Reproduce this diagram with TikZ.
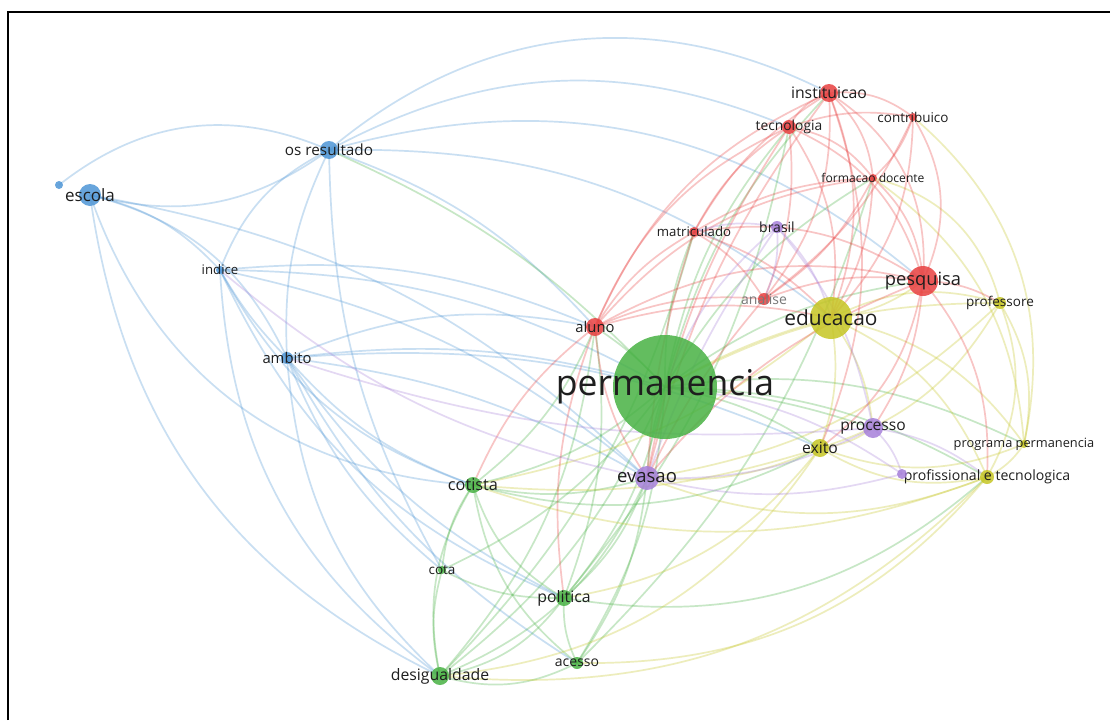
\documentclass[tikz,border=0pt]{standalone}
\usepackage{fontspec}
\setmainfont{Open Sans}
\usepackage{tikz}
\usetikzlibrary{calc}
\pgfdeclarelayer{edges}
\pgfsetlayers{edges,main}
\definecolor{kwblue}{RGB}{78,150,214}
\definecolor{kwred}{RGB}{232,64,64}
\definecolor{kwgreen}{RGB}{72,178,68}
\definecolor{kwyellow}{RGB}{198,198,36}
\definecolor{kwpurple}{RGB}{166,128,218}
\definecolor{txt}{RGB}{30,30,30}
\definecolor{txtlight}{RGB}{120,120,120}

\begin{document}
\begin{tikzpicture}[x=1pt,y=-1pt]
    %
    \tikzset{kw/.style={circle, inner sep=0pt, fill opacity=0.85},
             kwlabel/.style={inner sep=0pt},
             edge/.style={line width=1.7pt, opacity=0.3}}
    \useasboundingbox (0,0) rectangle (1110,720);
    \draw[line width=2.5pt] (8,720) -- (8,12) -- (1110,12);

    %
    \foreach \n/\x/\y/\r/\c/\s/\tc/\t in {
        esc/90/195/11/kwblue/17/txt/escola,
        escdot/59/185/4/kwblue/1/txt/{},
        osr/329/150/9/kwblue/15.3/txt/os resultado,
        ind/220/270/4/kwblue/13.2/txt/indice,
        amb/287/358/6/kwblue/14.8/txt/ambito,
        alu/595/327/9/kwred/14.8/txt/aluno,
        perm/665/387/52/kwgreen/35.5/txt/permanencia,
        eva/647/478/12/kwpurple/18.5/txt/evasao,
        cot/473/485/8/kwgreen/16.3/txt/cotista,
        cota/442/570/4/kwgreen/13.5/txt/cota,
        pol/564/598/8/kwgreen/15.8/txt/politica,
        des/440/676/9/kwgreen/15.8/txt/desigualdade,
        ace/577/663/6/kwgreen/14/txt/acesso,
        inst/829/93/9/kwred/15.8/txt/instituicao,
        tec/789/127/7/kwred/13.8/txt/tecnologia,
        contr/913/117/4/kwred/13.5/txt/contribuico,
        form/873/178/4/kwred/12.1/txt/formacao docente,
        matr/694/232/5/kwred/13.2/txt/matriculado,
        bra/777/227/6/kwpurple/14/txt/brasil,
        anal/764/299/6/kwred/14/txtlight/analise,
        pesq/923/281/15/kwred/18.3/txt/pesquisa,
        edu/831/318/21/kwyellow/20.9/txt/educacao,
        prof/1000/303/6/kwyellow/13.5/txt/professore,
        proc/873/428/10/kwpurple/15.6/txt/processo,
        exi/820/448/9/kwyellow/15.7/txt/exito,
        prog/1024/444/4/kwyellow/12.8/txt/programa permanencia,
        ptec/987/477/7/kwyellow/14.1/txt/profissional e tecnologica,
        ins/902/474/5/kwpurple/1/txt/{}} {
        \node[kw, fill=\c, minimum size={2*\r pt}] (\n) at (\x,\y) {};
        \node[kwlabel, text=\tc, font=\fontsize{\s}{\s}\selectfont] (\n-t) at (\n) {\t};
    }

    \begin{pgfonlayer}{edges}
    \fill[white] (0,0) rectangle (1110,720);
    %
    \foreach \a/\b/\k [evaluate=\k as \kk using 1.4*\k] in {osr/escdot/22, esc/osr/18,
        ind/esc/12, amb/esc/18, eva/esc/12, esc/cot/24, esc/des/20, osr/ind/15,
        osr/amb/10, inst/osr/24, pesq/osr/20, tec/osr/18, edu/osr/14, alu/osr/10,
        osr/cota/10, perm/ind/10, alu/ind/10, ind/amb/5, ind/cot/15, ind/des/18,
        ind/pol/15, eva/ind/10, perm/amb/8, amb/cot/10, amb/pol/10, amb/des/15,
        amb/cota/10, amb/ace/10, eva/amb/8, alu/amb/12, exi/amb/10}
        \draw[edge, kwblue] (\a.center) to[bend right=\kk] (\b.center);

    %
    \foreach \a/\b/\k [evaluate=\k as \kk using 1.4*\k] in {perm/osr/8, cot/perm/10,
        perm/eva/5, pol/perm/10, des/perm/10, ace/perm/10, cota/perm/10, pesq/perm/10,
        exi/perm/8, proc/perm/5, perm/alu/5, ptec/perm/10, prog/perm/12, inst/perm/10,
        form/perm/10, tec/perm/10, matr/perm/8, cot/pol/15, cot/des/15, cot/cota/10,
        cot/ace/15, cot/eva/10, cota/pol/10, cota/des/10, des/pol/15, pol/ace/10,
        des/ace/15, pol/eva/10, des/eva/15, ace/eva/10, cot/exi/15, pol/ptec/18,
        cot/alu/10, pol/alu/10, des/alu/12, des/matr/10, pol/tec/10, ace/form/10}
        \draw[edge, kwgreen] (\a.center) to[bend right=\kk] (\b.center);

    %
    \foreach \a/\b/\k [evaluate=\k as \kk using 1.4*\k] in {edu/perm/5, exi/edu/10,
        proc/edu/10, prof/edu/15, prog/edu/15, ptec/edu/15, prog/prof/15, ptec/prof/18,
        exi/prof/15, prof/perm/10, prof/form/22, exi/ptec/15, exi/prog/15, exi/proc/10,
        eva/exi/10, pol/exi/15, des/exi/18, ace/ptec/18, eva/ptec/15, ptec/prog/10,
        prog/contr/22, prog/form/18, des/ptec/18, edu/pesq/10, cot/edu/10,
        cot/exi/8, eva/prof/12, cot/ptec/14}
        \draw[edge, kwyellow] (\a.center) to[bend right=\kk] (\b.center);

    %
    \foreach \a/\b/\k [evaluate=\k as \kk using 1.4*\k] in {inst/tec/15, contr/inst/15,
        form/inst/15, pesq/inst/22, edu/inst/15, inst/alu/15, inst/matr/10,
        anal/inst/15, exi/inst/15, pesq/tec/18, form/tec/15, anal/tec/10, edu/tec/15,
        tec/alu/15, contr/tec/10, tec/matr/10, pesq/contr/20, form/contr/10,
        edu/contr/15, anal/contr/10, pesq/form/15, edu/form/10, anal/form/10,
        form/matr/10, form/alu/15, matr/alu/10, anal/matr/10, pesq/matr/15,
        edu/matr/10, matr/eva/5, anal/alu/10, pesq/alu/15, edu/alu/10, alu/eva/10,
        alu/cot/10, pesq/anal/10, anal/eva/5, exi/pesq/15, prof/pesq/10, proc/pesq/10,
        ptec/pesq/15, alu/pol/10, pesq/eva/10, inst/eva/8, tec/eva/8}
        \draw[edge, kwred] (\a.center) to[bend right=\kk] (\b.center);

    %
    \foreach \a/\b/\k [evaluate=\k as \kk using 1.4*\k] in {edu/bra/10, bra/perm/10,
        bra/eva/5, proc/bra/10, anal/bra/10, bra/matr/10, eva/proc/10, ins/proc/10,
        ptec/proc/10, ins/perm/10, eva/ins/10, ind/eva/10, amb/proc/8}
        \draw[edge, kwpurple] (\a.center) to[bend right=\kk] (\b.center);
    \end{pgfonlayer}

\end{tikzpicture}
\end{document}
